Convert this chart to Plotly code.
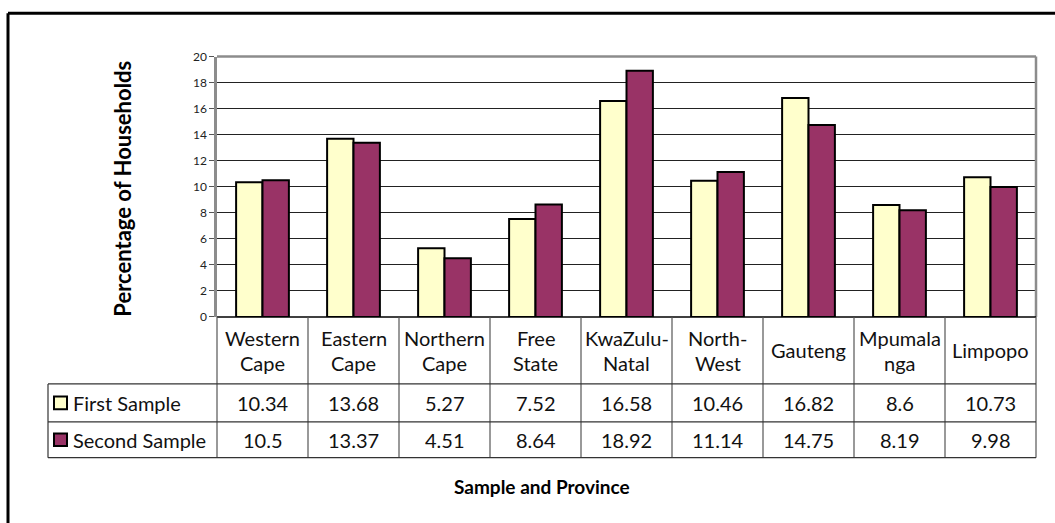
import plotly.graph_objects as go

provinces = ["Western\nCape", "Eastern\nCape", "Northern\nCape", "Free\nState",
             "KwaZulu-\nNatal", "North-\nWest", "Gauteng", "Mpumala\nnga", "Limpopo"]
first_sample = [10.34, 13.68, 5.27, 7.52, 16.58, 10.46, 16.82, 8.6, 10.73]
second_sample = [10.5, 13.37, 4.51, 8.64, 18.92, 11.14, 14.75, 8.19, 9.98]
first_text = ["10.34", "13.68", "5.27", "7.52", "16.58", "10.46", "16.82", "8.6", "10.73"]
second_text = ["10.5", "13.37", "4.51", "8.64", "18.92", "11.14", "14.75", "8.19", "9.98"]
series_names = ["First Sample", "Second Sample"]
series_colors = ["#FFFFCC", "#993366"]
y_ticks = [0, 2, 4, 6, 8, 10, 12, 14, 16, 18, 20]

W, H = 1055, 523
PL, PR, PT, PB = 217, 1036, 50, 318   # plot area in pixels
TL = 48                               # table left
R1, R2, R3 = 387, 426, 463            # table row boundaries
FONT = "Lato, Calibri, Carlito, sans-serif"
TFS = 20


def X(px):
    return px / W


def Y(py):
    return 1 - py / H


n = len(provinces)
xs = list(range(n))

fig = go.Figure()
for vals, name, col in zip([first_sample, second_sample], series_names, series_colors):
    fig.add_trace(go.Bar(x=xs, y=vals, name=name, marker=dict(color=col, line=dict(color="black", width=2)),
                         showlegend=False))

shapes = []
ann = []

# outer frame (top & left visible)
shapes.append(dict(type="line", xref="paper", yref="paper", x0=X(8), x1=X(1070), y0=Y(5.5), y1=Y(5.5),
                   line=dict(color="black", width=3)))
shapes.append(dict(type="line", xref="paper", yref="paper", x0=X(8), x1=X(8), y0=Y(5.5), y1=Y(540),
                   line=dict(color="black", width=3)))

# plot-area border top & right (grey)
shapes.append(dict(type="line", xref="paper", yref="paper", x0=X(PL), x1=X(PR), y0=Y(PT), y1=Y(PT),
                   line=dict(color="#8c8c8c", width=2.5)))
shapes.append(dict(type="line", xref="paper", yref="paper", x0=X(PR), x1=X(PR), y0=Y(PT), y1=Y(PB),
                   line=dict(color="#8c8c8c", width=2.5)))
# x axis line
shapes.append(dict(type="line", xref="paper", yref="paper", x0=X(PL), x1=X(PR), y0=Y(PB), y1=Y(PB),
                   line=dict(color="black", width=1.5)))

# table: vertical separators
for i in range(n + 1):
    xp = PL + (PR - PL) * i / n
    shapes.append(dict(type="line", xref="paper", yref="paper", x0=X(xp), x1=X(xp), y0=Y(PB), y1=Y(R3),
                       line=dict(color="#555555", width=1.2)))
# left column vertical
shapes.append(dict(type="line", xref="paper", yref="paper", x0=X(TL), x1=X(TL), y0=Y(R1), y1=Y(R3),
                   line=dict(color="#333333", width=1.2)))
for ry in (R1, R2, R3):
    shapes.append(dict(type="line", xref="paper", yref="paper", x0=X(TL), x1=X(PR), y0=Y(ry), y1=Y(ry),
                       line=dict(color="#333333", width=1.2)))

# category labels (header row)
hdr_c = (PB + R1) / 2
for i, lab in enumerate(provinces):
    lines = lab.split("\n")
    if len(lines) == 1:
        offs = [0]
    else:
        offs = [-12.5, 12.5]
    for ln, o in zip(lines, offs):
        ann.append(dict(x=i, xref="x", y=Y(hdr_c + o), yref="paper", text=ln, showarrow=False,
                        xanchor="center", yanchor="middle", font=dict(family=FONT, size=TFS, color="#111")))

# data rows
rows_c = [(R1 + R2) / 2, (R2 + R3) / 2]
for rc, texts, name, col in zip(rows_c, [first_text, second_text], series_names, series_colors):
    shapes.append(dict(type="rect", xref="paper", yref="paper", x0=X(54), x1=X(67), y0=Y(rc - 6.5),
                       y1=Y(rc + 6.5), fillcolor=col, line=dict(color="black", width=2)))
    ann.append(dict(x=X(71), xref="paper", y=Y(rc), yref="paper", text=name, showarrow=False,
                    xanchor="left", yanchor="middle", font=dict(family=FONT, size=TFS, color="#111")))
    for i, t in enumerate(texts):
        ann.append(dict(x=i, xref="x", y=Y(rc), yref="paper", text=t, showarrow=False,
                        xanchor="center", yanchor="middle", font=dict(family=FONT, size=TFS, color="#111")))

# axis titles
ann.append(dict(x=X(123), xref="paper", y=Y(186), yref="paper", text="<b>Percentage of Households</b>",
                showarrow=False, textangle=-90, xanchor="center", yanchor="middle",
                font=dict(family=FONT, size=22, color="black")))
ann.append(dict(x=X(542), xref="paper", y=Y(493), yref="paper", text="<b>Sample and Province</b>",
                showarrow=False, xanchor="center", yanchor="middle",
                font=dict(family=FONT, size=19, color="black")))

fig.update_layout(
    width=W, height=H,
    margin=dict(l=0, r=0, t=0, b=0),
    paper_bgcolor="white", plot_bgcolor="white",
    barmode="group", bargap=0.42, bargroupgap=0,
    xaxis=dict(domain=[X(PL), X(PR)], range=[-0.5, n - 0.5], showticklabels=False, showgrid=False,
               zeroline=False, showline=False, ticks=""),
    yaxis=dict(domain=[Y(PB), Y(PT)], range=[0, 20], tickvals=y_ticks, ticks="outside", ticklen=5,
               tickcolor="#555", tickwidth=1, showgrid=True, gridcolor="#222", gridwidth=1,
               zeroline=False, showline=True, linecolor="#8c8c8c", linewidth=2.5,
               tickfont=dict(family=FONT, size=12, color="#222")),
    shapes=shapes, annotations=ann,
)

fig.write_html("out.html", config={"displayModeBar": False},
               post_script="document.body.style.margin='0';document.body.style.overflow='hidden';")
